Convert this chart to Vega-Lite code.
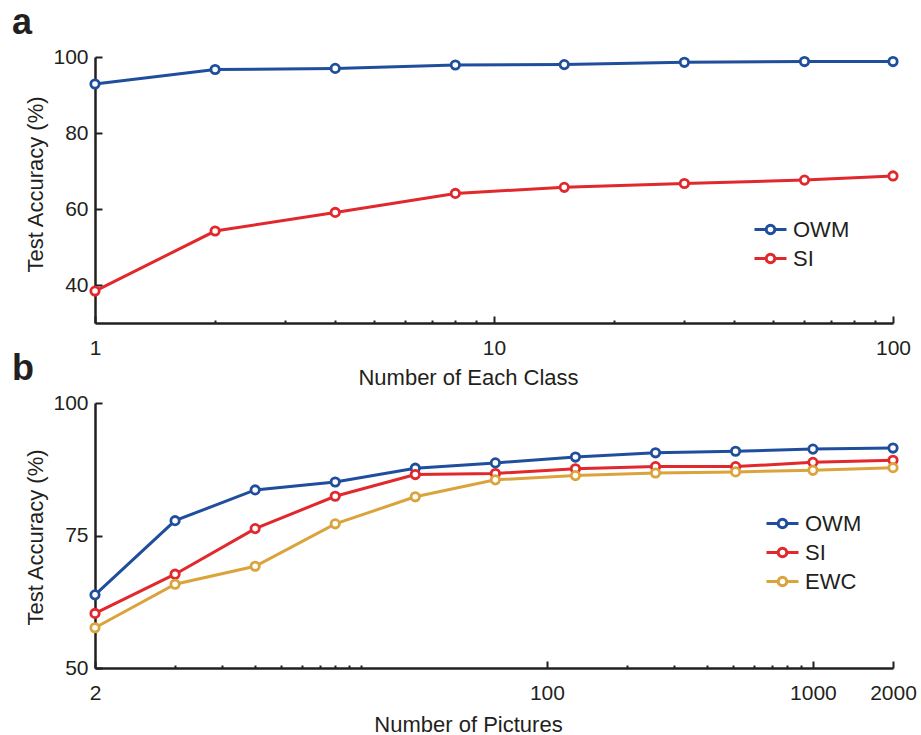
{
  "$schema": "https://vega.github.io/schema/vega-lite/v6.json",
  "padding": {"left": 12, "top": 5, "right": 5, "bottom": 5},
  "background": "white",
  "config": {
    "view": {"stroke": null},
    "font": "Liberation Sans",
    "axis": {
      "grid": false,
      "domainColor": "#231f20",
      "domainWidth": 2.5,
      "tickColor": "#231f20",
      "tickWidth": 2,
      "labelColor": "#231f20",
      "titleColor": "#231f20",
      "labelFont": "Liberation Sans",
      "titleFont": "Liberation Sans",
      "labelFontSize": 21,
      "titleFontSize": 22,
      "titleFontWeight": "normal",
      "labelFlush": false,
      "labelOverlap": false
    },
    "legend": {
      "labelFont": "Liberation Sans",
      "labelFontSize": 22,
      "labelColor": "#231f20",
      "padding": 0,
      "rowPadding": 0,
      "labelOffset": 5,
      "symbolType": "M-1,0H-0.27M0.27,0H1M-0.27,0A0.27,0.27 0 1,1 0.27,0A0.27,0.27 0 1,1 -0.27,0Z",
      "symbolSize": 1024,
      "symbolStrokeWidth": 3,
      "symbolFillColor": "white"
    },
    "title": {"font": "Liberation Sans", "fontSize": 36, "fontWeight": "bold", "color": "#231f20"}
  },
  "datasets": {
    "a": [
      {"n": 1, "method": "OWM", "acc": 92.9},
      {"n": 2, "method": "OWM", "acc": 96.7},
      {"n": 4, "method": "OWM", "acc": 97.0},
      {"n": 8, "method": "OWM", "acc": 97.9},
      {"n": 15, "method": "OWM", "acc": 98.0},
      {"n": 30, "method": "OWM", "acc": 98.6},
      {"n": 60, "method": "OWM", "acc": 98.8},
      {"n": 100, "method": "OWM", "acc": 98.8},
      {"n": 1, "method": "SI", "acc": 38.4},
      {"n": 2, "method": "SI", "acc": 54.2},
      {"n": 4, "method": "SI", "acc": 59.1},
      {"n": 8, "method": "SI", "acc": 64.1},
      {"n": 15, "method": "SI", "acc": 65.7},
      {"n": 30, "method": "SI", "acc": 66.7},
      {"n": 60, "method": "SI", "acc": 67.6},
      {"n": 100, "method": "SI", "acc": 68.7}
    ],
    "b": [
      {"n": 2, "method": "OWM", "acc": 63.8},
      {"n": 4, "method": "OWM", "acc": 77.8},
      {"n": 8, "method": "OWM", "acc": 83.6},
      {"n": 16, "method": "OWM", "acc": 85.1},
      {"n": 32, "method": "OWM", "acc": 87.7},
      {"n": 64, "method": "OWM", "acc": 88.7},
      {"n": 128, "method": "OWM", "acc": 89.8},
      {"n": 256, "method": "OWM", "acc": 90.6},
      {"n": 512, "method": "OWM", "acc": 90.9},
      {"n": 1000, "method": "OWM", "acc": 91.3},
      {"n": 2000, "method": "OWM", "acc": 91.5},
      {"n": 2, "method": "SI", "acc": 60.3},
      {"n": 4, "method": "SI", "acc": 67.7},
      {"n": 8, "method": "SI", "acc": 76.3},
      {"n": 16, "method": "SI", "acc": 82.4},
      {"n": 32, "method": "SI", "acc": 86.5},
      {"n": 64, "method": "SI", "acc": 86.7},
      {"n": 128, "method": "SI", "acc": 87.6},
      {"n": 256, "method": "SI", "acc": 88.0},
      {"n": 512, "method": "SI", "acc": 88.0},
      {"n": 1000, "method": "SI", "acc": 88.8},
      {"n": 2000, "method": "SI", "acc": 89.2},
      {"n": 2, "method": "EWC", "acc": 57.6},
      {"n": 4, "method": "EWC", "acc": 65.8},
      {"n": 8, "method": "EWC", "acc": 69.2},
      {"n": 16, "method": "EWC", "acc": 77.2},
      {"n": 32, "method": "EWC", "acc": 82.3},
      {"n": 64, "method": "EWC", "acc": 85.5},
      {"n": 128, "method": "EWC", "acc": 86.3},
      {"n": 256, "method": "EWC", "acc": 86.8},
      {"n": 512, "method": "EWC", "acc": 87.0},
      {"n": 1000, "method": "EWC", "acc": 87.3},
      {"n": 2000, "method": "EWC", "acc": 87.8}
    ]
  },
  "bounds": "flush",
  "spacing": 80,
  "resolve": {
    "scale": {"x": "independent", "y": "independent", "color": "independent"},
    "axis": {"x": "independent", "y": "independent"},
    "legend": {"color": "independent"}
  },
  "vconcat": [
    {
      "title": {"text": "a", "anchor": "start", "frame": "group", "dx": -83},
      "width": 798,
      "height": 266,
      "data": {"name": "a"},
      "mark": {"type": "line", "strokeWidth": 3, "point": {"filled": false, "fill": "white", "size": 70, "strokeWidth": 2.8}},
      "encoding": {
        "x": {
          "field": "n", "type": "quantitative",
          "scale": {"type": "log", "domain": [1, 100], "nice": false},
          "axis": {
            "title": "Number of Each Class",
            "titleX": 373, "titleY": 61, "titleAlign": "center", "titleBaseline": "alphabetic",
            "values": [1, 2, 3, 4, 5, 6, 7, 8, 9, 10, 20, 30, 40, 50, 60, 70, 80, 90, 100],
            "labelExpr": "(datum.value == 1 || datum.value == 10 || datum.value == 100) ? '' + datum.value : ''",
            "tickSize": {"condition": {"test": "datum.value == 1 || datum.value == 10 || datum.value == 100", "value": -7}, "value": -3},
            "labelPadding": 21
          }
        },
        "y": {
          "field": "acc", "type": "quantitative",
          "scale": {"domain": [30, 100], "nice": false, "zero": false},
          "axis": {
            "title": "Test Accuracy (%)",
            "titleX": -60, "titleY": 127, "titleAlign": "center", "titleBaseline": "middle", "titleAngle": -90,
            "values": [40, 60, 80, 100],
            "tickSize": -7,
            "labelPadding": 14
          }
        },
        "color": {
          "field": "method", "type": "nominal",
          "scale": {"domain": ["OWM", "SI"], "range": ["#1f4e9c", "#e1282c"]},
          "legend": {"title": null, "orient": "none", "legendX": 658, "legendY": 155}
        }
      }
    },
    {
      "title": {"text": "b", "anchor": "start", "frame": "group", "dx": -83},
      "width": 798,
      "height": 265,
      "data": {"name": "b"},
      "mark": {"type": "line", "strokeWidth": 3, "point": {"filled": false, "fill": "white", "size": 70, "strokeWidth": 2.8}},
      "encoding": {
        "x": {
          "field": "n", "type": "quantitative",
          "scale": {"type": "log", "domain": [2, 2000], "nice": false},
          "axis": {
            "title": "Number of Pictures",
            "titleX": 373, "titleY": 63, "titleAlign": "center", "titleBaseline": "alphabetic",
            "values": [2, 4, 6, 8, 10, 12, 14, 16, 18, 20, 100, 200, 300, 400, 500, 600, 700, 800, 900, 1000, 2000],
            "labelExpr": "(datum.value == 2 || datum.value == 100 || datum.value == 1000 || datum.value == 2000) ? '' + datum.value : ''",
            "tickSize": {"condition": {"test": "datum.value == 2 || datum.value == 100 || datum.value == 1000 || datum.value == 2000", "value": -7}, "value": -3},
            "labelPadding": 21
          }
        },
        "y": {
          "field": "acc", "type": "quantitative",
          "scale": {"domain": [50, 100], "nice": false, "zero": false},
          "axis": {
            "title": "Test Accuracy (%)",
            "titleX": -60, "titleY": 134, "titleAlign": "center", "titleBaseline": "middle", "titleAngle": -90,
            "values": [50, 75, 100],
            "tickSize": -7,
            "labelPadding": 14
          }
        },
        "color": {
          "field": "method", "type": "nominal",
          "scale": {"domain": ["OWM", "SI", "EWC"], "range": ["#1f4e9c", "#e1282c", "#dba33c"]},
          "legend": {"title": null, "orient": "none", "legendX": 670, "legendY": 103}
        }
      }
    }
  ]
}
